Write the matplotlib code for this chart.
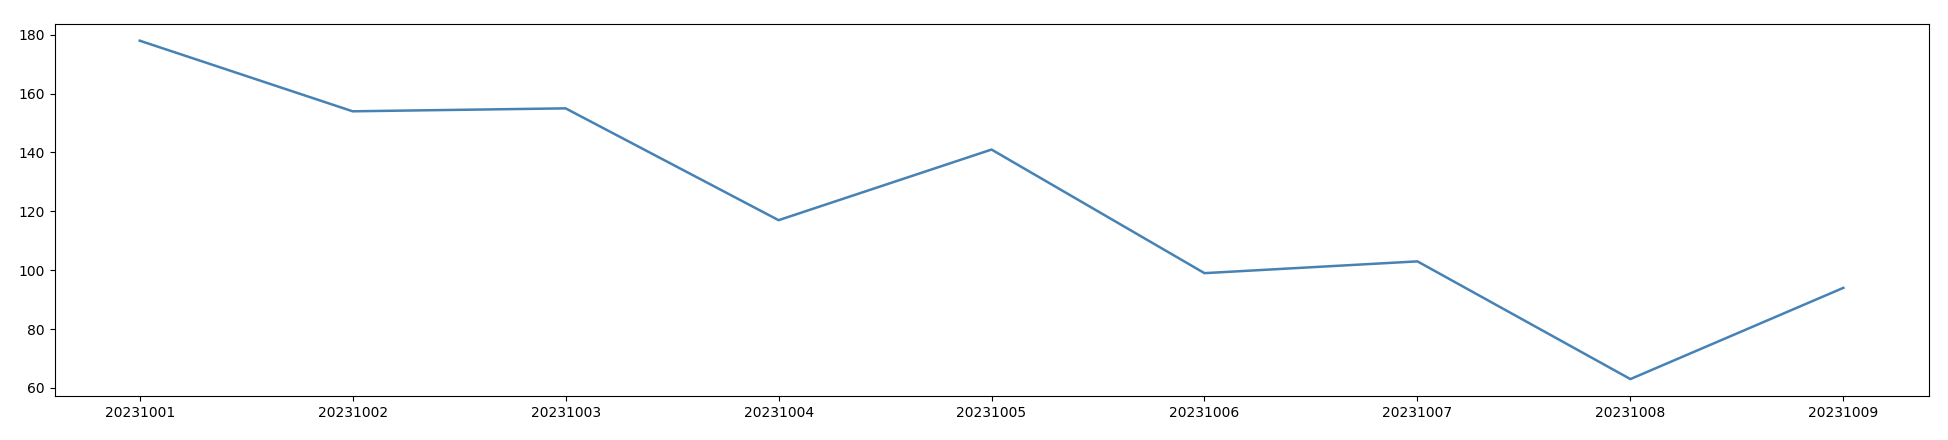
import matplotlib
matplotlib.use("Agg")
from matplotlib import pyplot as plt

dates = ["20231001", "20231002", "20231003", "20231004", "20231005",
         "20231006", "20231007", "20231008", "20231009"]
values = [178, 154, 155, 117, 141, 99, 103, 63, 94]

fig = plt.figure(figsize=(19.48, 4.4), dpi=100)
ax = fig.add_axes([0.028, 0.10, 0.962, 0.846])
ax.plot(dates, values, color="steelblue", linewidth=1.8)
ax.set_yticks(range(60, 181, 20))
fig.savefig("out.png")
